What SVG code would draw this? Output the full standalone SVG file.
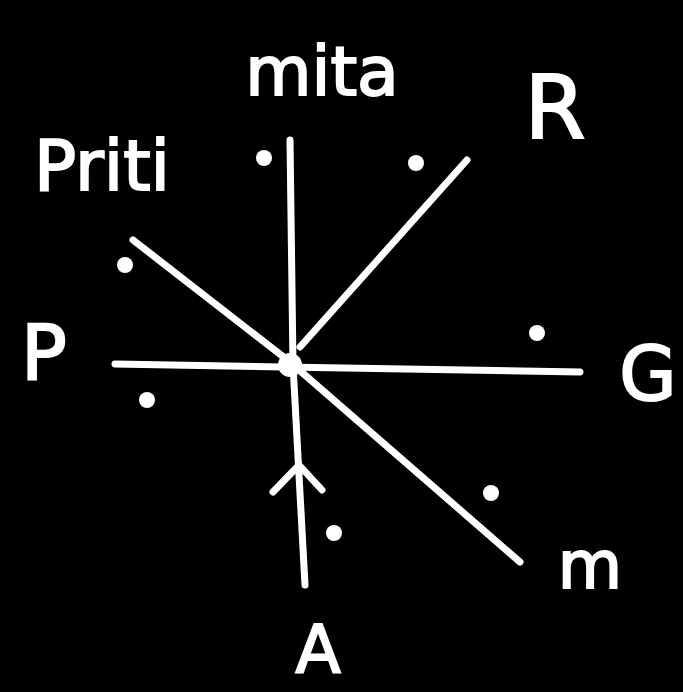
<svg xmlns="http://www.w3.org/2000/svg" width="683" height="692" viewBox="0 0 683 692">
<style>
.ln{stroke:#fff;stroke-width:7;stroke-linecap:round;fill:none}
.dot{fill:#fff}
.lb{fill:#fff;stroke:#fff;stroke-width:2;font-family:"DejaVu Sans","Liberation Sans",sans-serif}
</style>
<rect width="683" height="692" fill="#000"/>
<g id="connectors">
<path class="ln" d="M290,140 L293,365 L305,585"/>
<path class="ln" d="M115,364 L580,372"/>
<path class="ln" d="M300,347 L467,160"/>
<path class="ln" d="M133,240 L290,362 L520,562"/>
<path class="ln" d="M273,492 L299,465 L322,490"/>
</g>
<g id="center"><circle class="dot" cx="290" cy="365" r="12"/></g>
<g id="dots">
<circle class="dot" cx="264" cy="158" r="8"/>
<circle class="dot" cx="416" cy="163" r="8"/>
<circle class="dot" cx="125" cy="265" r="8"/>
<circle class="dot" cx="537" cy="333" r="8"/>
<circle class="dot" cx="147" cy="400" r="8"/>
<circle class="dot" cx="491" cy="493" r="8"/>
<circle class="dot" cx="334" cy="533" r="8"/>
</g>
<g id="label-mita"><text class="lb" x="322" y="95" font-size="68" text-anchor="middle">mita</text></g>
<g id="label-R"><text class="lb" x="555" y="138" font-size="88" text-anchor="middle">R</text></g>
<g id="label-Priti"><text class="lb" x="102" y="190" font-size="70" text-anchor="middle">Priti</text></g>
<g id="label-P"><text class="lb" x="44" y="380" font-size="76" text-anchor="middle">P</text></g>
<g id="label-G"><text class="lb" x="648" y="400" font-size="74" text-anchor="middle">G</text></g>
<g id="label-m"><text class="lb" x="590" y="588" font-size="66" text-anchor="middle">m</text></g>
<g id="label-A"><text class="lb" x="318" y="672" font-size="66" text-anchor="middle">A</text></g>
</svg>
